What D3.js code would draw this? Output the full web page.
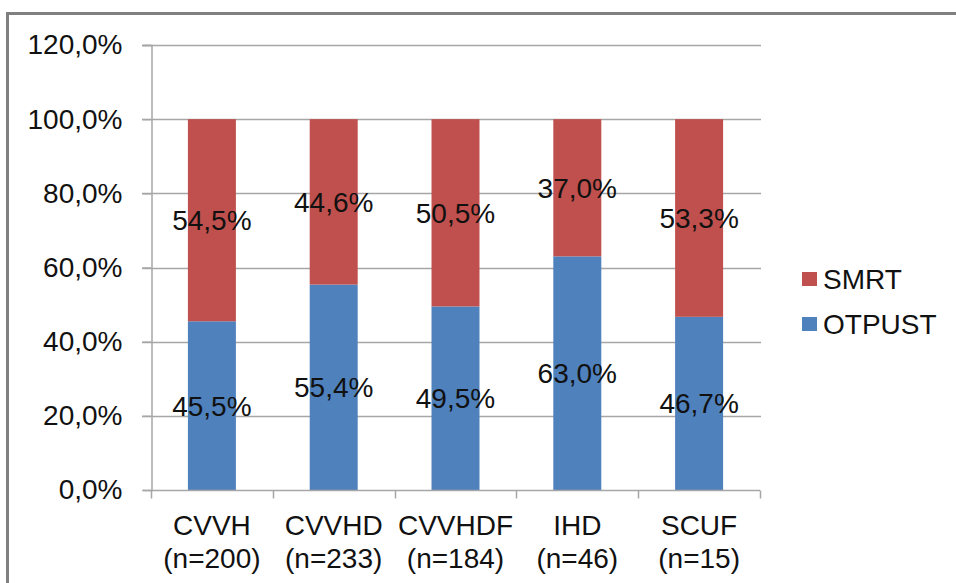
<!DOCTYPE html>
<html>
<head>
<meta charset="utf-8">
<script src="https://cdn.jsdelivr.net/npm/d3@7"></script>
<style>
  html, body { margin: 0; padding: 0; background: #fff; }
  svg { display: block; font-family: "Liberation Sans", Arial, sans-serif; }
</style>
</head>
<body>
<svg id="chart" width="956" height="583"></svg>
<script>
const categories = ["CVVH", "CVVHD", "CVVHDF", "IHD", "SCUF"];
const sampleSizes = ["(n=200)", "(n=233)", "(n=184)", "(n=46)", "(n=15)"];
const otpust = [45.5, 55.4, 49.5, 63.0, 46.7];
const smrt = [54.5, 44.6, 50.5, 37.0, 53.3];
const yTicks = [0, 20, 40, 60, 80, 100, 120];
const seriesNames = ["OTPUST", "SMRT"];
const seriesColors = ["#4F81BD", "#C0504D"];

(function () {
const svg = d3.select("#chart");
const W = 956, H = 583;
const mLeft = 151, mRight = 760, mTop = 45, mBottom = 490;
const FS = 28;

// frame
svg.append("rect").attr("x", 7.5).attr("y", 13.5).attr("width", W + 10).attr("height", H + 10)
  .attr("fill", "#fff").attr("stroke", "#808080").attr("stroke-width", 3);

const x = d3.scaleBand().domain(categories).range([mLeft, mRight])
  .paddingInner(0.606).paddingOuter(0.303);
const y = d3.scaleLinear().domain([0, 120]).range([mBottom, mTop]);

const fmt = v => d3.format(".1f")(v).replace(".", ",") + "%";

// gridlines
svg.append("g").selectAll("line").data(yTicks.filter(t => t > 0)).join("line")
  .attr("x1", mLeft - 9).attr("x2", mRight + 1)
  .attr("y1", d => Math.round(y(d)) + 0.5).attr("y2", d => Math.round(y(d)) + 0.5)
  .attr("stroke", "#a6a6a6").attr("stroke-width", 1.5);

// y axis
const yAxis = d3.axisLeft(y).tickValues(yTicks).tickSize(9).tickPadding(20).tickFormat(fmt);
const gy = svg.append("g").attr("transform", `translate(${mLeft + 0.5},0)`).call(yAxis);
gy.select(".domain").attr("stroke", "#a6a6a6").attr("stroke-width", 1.5);
gy.selectAll(".tick line").attr("stroke", "#a6a6a6").attr("stroke-width", 1.5);
gy.selectAll(".tick text").attr("font-size", FS).attr("fill", "#111").attr("font-family", "Liberation Sans, Arial, sans-serif");

// stacked data
const rows = categories.map((c, i) => ({ cat: c, OTPUST: otpust[i], SMRT: smrt[i] }));
const stack = d3.stack().keys(seriesNames)(rows);

const layers = svg.append("g").selectAll("g").data(stack).join("g")
  .attr("fill", (d, i) => seriesColors[i]);
layers.selectAll("rect").data(d => d).join("rect")
  .attr("x", d => x(d.data.cat))
  .attr("width", x.bandwidth())
  .attr("y", d => y(d[1]))
  .attr("height", d => y(d[0]) - y(d[1]));

// x axis
const xAxis = d3.axisBottom(x).tickSize(0).tickFormat("");
const gx = svg.append("g").attr("transform", `translate(0,${mBottom + 0.5})`).call(xAxis);
gx.select(".domain").attr("stroke", "#a6a6a6").attr("stroke-width", 1.5).attr("d", `M${mLeft},0H${mRight}`);
const boundaries = categories.map(c => x(c) - x.step() * x.paddingOuter()).concat([mRight]);
gx.append("g").selectAll("line").data(boundaries).join("line")
  .attr("x1", d => Math.round(d) + 0.5).attr("x2", d => Math.round(d) + 0.5)
  .attr("y1", 0).attr("y2", 8).attr("stroke", "#a6a6a6").attr("stroke-width", 1.5);

// category labels
const cl = svg.append("g").selectAll("text").data(categories).join("text")
  .attr("x", d => x(d) + x.bandwidth() / 2)
  .attr("y", 535)
  .attr("text-anchor", "middle").attr("font-size", FS).attr("fill", "#111");
cl.append("tspan").attr("x", d => x(d) + x.bandwidth() / 2).text(d => d);
cl.append("tspan").attr("x", d => x(d) + x.bandwidth() / 2).attr("dy", 33)
  .text((d, i) => sampleSizes[i]);

// data labels
svg.append("g").selectAll("g").data(stack).join("g")
  .selectAll("text").data(d => d).join("text")
  .attr("x", d => x(d.data.cat) + x.bandwidth() / 2)
  .attr("y", d => (y(d[0]) + y(d[1])) / 2)
  .attr("dy", "0.36em")
  .attr("text-anchor", "middle").attr("font-size", FS).attr("fill", "#111")
  .text(d => fmt(d[1] - d[0]));

// legend (SMRT on top)
const legendItems = [
  { name: seriesNames[1], color: seriesColors[1], cy: 279 },
  { name: seriesNames[0], color: seriesColors[0], cy: 324 }
];
const lg = svg.append("g").selectAll("g").data(legendItems).join("g");
lg.append("rect").attr("x", 802).attr("y", d => d.cy - 7).attr("width", 15).attr("height", 14)
  .attr("fill", d => d.color);
lg.append("text").attr("x", 823).attr("y", d => d.cy).attr("dy", "0.36em")
  .attr("font-size", FS).attr("fill", "#111").text(d => d.name);
})();
</script>
</body>
</html>
